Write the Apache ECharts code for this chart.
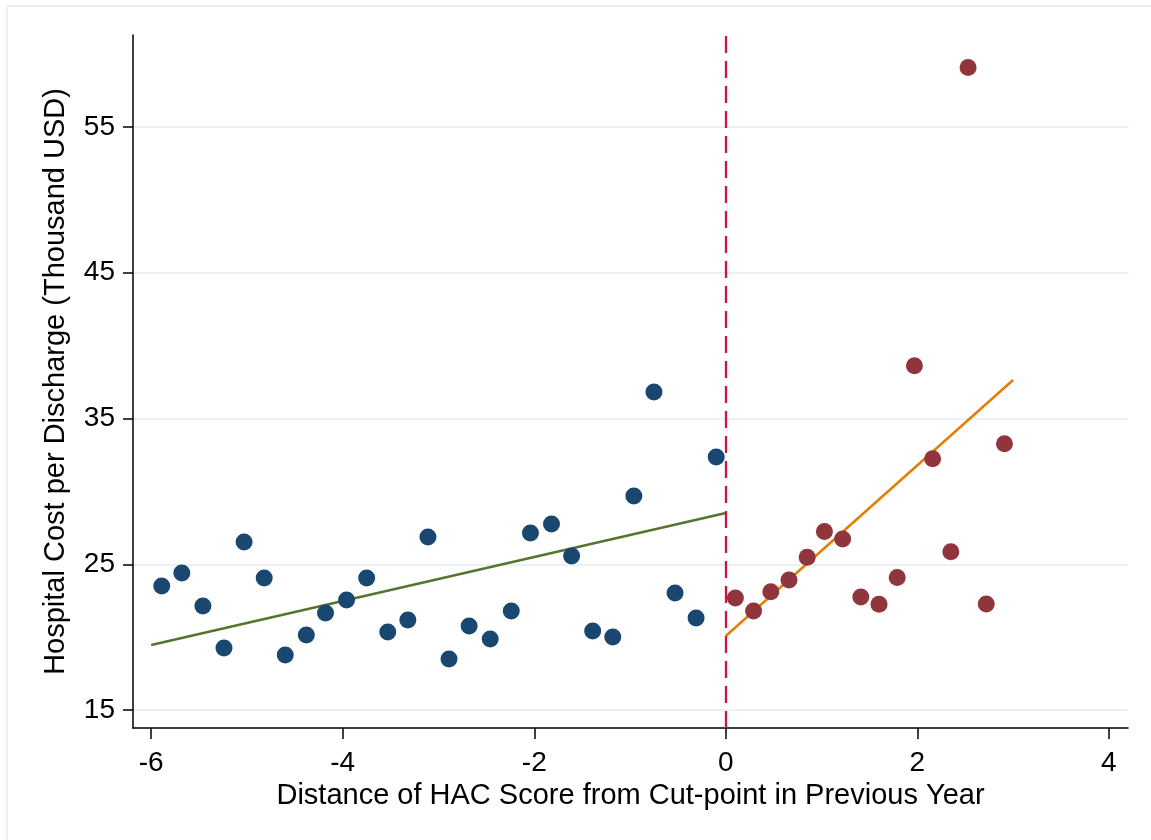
<!DOCTYPE html>
<html>
<head>
<meta charset="utf-8">
<script src="https://cdn.jsdelivr.net/npm/echarts@6/dist/echarts.min.js"></script>
<style>html,body{margin:0;padding:0;background:#fff;}#c{width:1151px;height:840px;}</style>
</head>
<body>
<div id="c"></div>
<script>
// Binned scatter: below cut-point (navy)
var belowX = [-5.89,-5.68,-5.46,-5.24,-5.03,-4.82,-4.60,-4.38,-4.18,-3.96,-3.75,-3.53,-3.32,-3.11,-2.89,-2.68,-2.46,-2.24,-2.04,-1.82,-1.61,-1.39,-1.18,-0.96,-0.75,-0.53,-0.31,-0.10];
var belowY = [23.51,24.40,22.14,19.25,26.53,24.06,18.77,20.15,21.66,22.55,24.06,20.35,21.17,26.87,18.50,20.76,19.87,21.79,27.14,27.76,25.57,20.42,20.01,29.68,36.82,23.03,21.31,32.36];
// Binned scatter: above cut-point (maroon)
var aboveX = [0.10,0.29,0.47,0.66,0.85,1.03,1.22,1.41,1.60,1.79,1.97,2.16,2.35,2.53,2.72,2.91];
var aboveY = [22.68,21.79,23.12,23.92,25.48,27.24,26.73,22.75,22.25,24.10,38.62,32.24,25.86,59.07,22.27,33.27];
// Linear fits
var fitBelowX = [-6, 0];
var fitBelowY = [19.46, 28.52];
var fitAboveX = [0, 3.0];
var fitAboveY = [20.08, 37.64];
// Ticks
var xTicks = [-6, -4, -2, 0, 2, 4];
var yTicks = [15, 25, 35, 45, 55];
var cutPoint = 0;

function pairs(xs, ys){ return xs.map(function(x,i){ return [x, ys[i]]; }); }

var FONT = '"Liberation Sans", Arial, sans-serif';
var chart = echarts.init(document.getElementById('c'), null, {renderer:'canvas'});
chart.setOption({
  animation: false,
  backgroundColor: '#ffffff',
  textStyle: {fontFamily: FONT},
  graphic: [{
    type: 'rect', silent: true, z: -10,
    shape: {x: 7, y: 6, width: 1170, height: 860},
    style: {fill: 'none', stroke: '#eaf2f3', lineWidth: 2}
  }],
  grid: {left: 133, right: 23, top: 35, bottom: 112, containLabel: false},
  xAxis: {
    type: 'value', min: -6.19, max: 4.2,
    name: 'Distance of HAC Score from Cut-point in Previous Year',
    nameLocation: 'middle', nameGap: 49,
    nameTextStyle: {fontSize: 29, color: '#000', fontFamily: FONT},
    axisLine: {show: true, onZero: false, lineStyle: {color: '#000', width: 1.5}},
    axisTick: {show: true, length: 11, customValues: xTicks, lineStyle: {color: '#000', width: 1.5}},
    axisLabel: {customValues: xTicks, fontSize: 28, color: '#000', margin: 21, fontFamily: FONT},
    splitLine: {show: false}
  },
  yAxis: {
    type: 'value', min: 13.77, max: 61.3,
    name: 'Hospital Cost per Discharge (Thousand USD)',
    nameLocation: 'middle', nameGap: 63,
    nameTextStyle: {fontSize: 29, color: '#000', fontFamily: FONT},
    axisLine: {show: true, onZero: false, lineStyle: {color: '#000', width: 1.5}},
    axisTick: {show: true, length: 10, customValues: yTicks, lineStyle: {color: '#000', width: 1.5}},
    axisLabel: {customValues: yTicks, fontSize: 28, color: '#000', margin: 18, fontFamily: FONT},
    splitLine: {show: true, lineStyle: {color: '#eaf2f3', width: 2}}
  },
  series: [
    {
      type: 'line', data: pairs(fitBelowX, fitBelowY), symbol: 'none', z: 3,
      lineStyle: {color: '#55752f', width: 2.5}
    },
    {
      type: 'line', data: pairs(fitAboveX, fitAboveY), symbol: 'none', z: 3,
      lineStyle: {color: '#e37e00', width: 2.5}
    },
    {
      type: 'scatter', data: pairs(belowX, belowY), symbolSize: 17, z: 4,
      itemStyle: {color: '#1a476f', opacity: 1}
    },
    {
      type: 'scatter', data: pairs(aboveX, aboveY), symbolSize: 17, z: 4,
      itemStyle: {color: '#90353b', opacity: 1},
      markLine: {
        silent: true, symbol: 'none', z: 5,
        label: {show: false},
        lineStyle: {color: '#d0143f', width: 2.3, type: [17, 8]},
        data: [{xAxis: cutPoint}]
      }
    }
  ]
});
</script>
</body>
</html>
